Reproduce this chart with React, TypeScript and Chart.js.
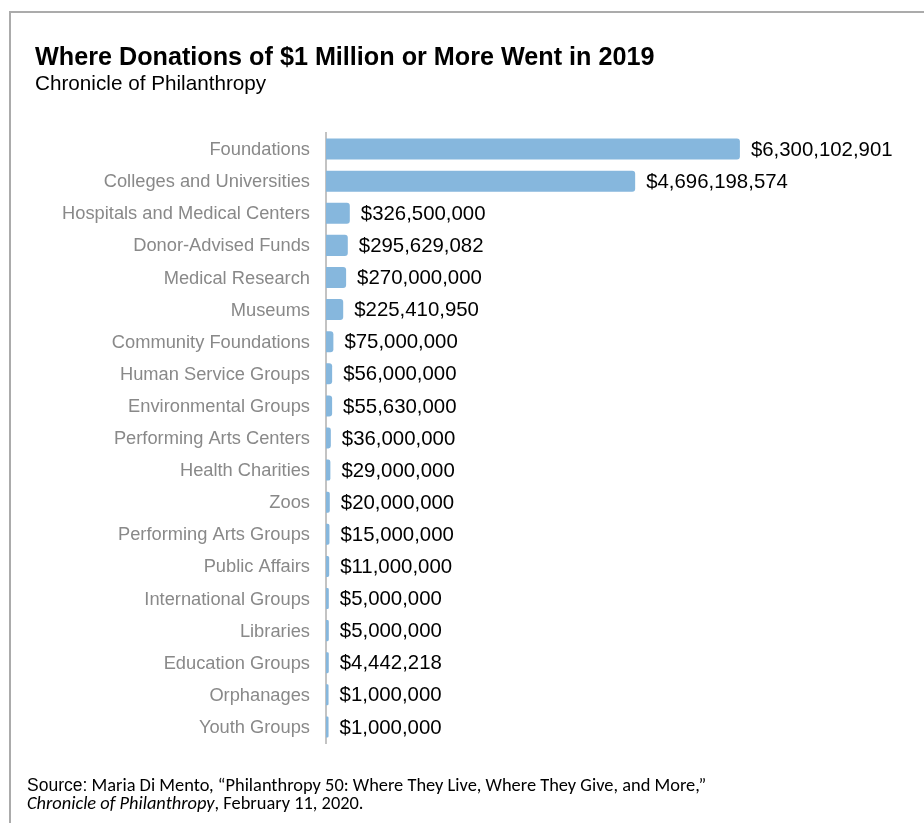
import React, { useEffect, useRef } from "react";
import { Chart, registerables } from "chart.js";

Chart.register(...registerables);

const categories: string[] = [
  "Foundations",
  "Colleges and Universities",
  "Hospitals and Medical Centers",
  "Donor-Advised Funds",
  "Medical Research",
  "Museums",
  "Community Foundations",
  "Human Service Groups",
  "Environmental Groups",
  "Performing Arts Centers",
  "Health Charities",
  "Zoos",
  "Performing Arts Groups",
  "Public Affairs",
  "International Groups",
  "Libraries",
  "Education Groups",
  "Orphanages",
  "Youth Groups",
];

const donations: number[] = [
  6300102901, 4696198574, 326500000, 295629082, 270000000, 225410950, 75000000,
  56000000, 55630000, 36000000, 29000000, 20000000, 15000000, 11000000, 5000000,
  5000000, 4442218, 1000000, 1000000,
];

const titleText = "Where Donations of $1 Million or More Went in 2019";
const subtitleText = "Chronicle of Philanthropy";

const AXIS_MIN = -38000000;
const AXIS_MAX = 7006000000;

const ARIAL = '"Liberation Sans", Arial, sans-serif';
const CALIBRI = 'Carlito, Calibri, Lato, sans-serif';

const fmt = (v: number) => "$" + v.toLocaleString("en-US");

const valueLabels = {
  id: "valueLabels",
  afterDatasetsDraw(chart: any) {
    const ctx = chart.ctx;
    const meta = chart.getDatasetMeta(0);
    ctx.save();
    ctx.font = `20.4px ${ARIAL}`;
    ctx.fillStyle = "#000000";
    ctx.textAlign = "left";
    ctx.textBaseline = "middle";
    meta.data.forEach((bar: any, i: number) => {
      ctx.fillText(fmt(donations[i]), bar.x + 11, bar.y + 1);
    });
    ctx.restore();
  },
};

export default function App() {
  const ref = useRef<HTMLCanvasElement | null>(null);

  useEffect(() => {
    if (!ref.current) return;
    const chart = new Chart(ref.current, {
      type: "bar",
      data: {
        labels: categories,
        datasets: [
          {
            data: donations,
            base: AXIS_MIN,
            backgroundColor: "#86b7dd",
            borderRadius: 3,
            barPercentage: 0.655,
            categoryPercentage: 1,
          },
        ],
      },
      options: {
        indexAxis: "y",
        animation: false,
        responsive: false,
        devicePixelRatio: 1,
        layout: { padding: { left: 0, top: 133, right: 138, bottom: 80 } },
        plugins: {
          legend: { display: false },
          tooltip: { enabled: false },
          title: { display: false },
        },
        scales: {
          x: {
            display: false,
            min: AXIS_MIN,
            max: AXIS_MAX,
          },
          y: {
            afterFit: (scale: any) => {
              scale.width = 326;
            },
            grid: { display: false, drawTicks: false },
            border: { display: true, color: "#c3c3c3", width: 2 },
            ticks: {
              padding: 16,
              labelOffset: 1,
              color: "#898989",
              font: { family: ARIAL, size: 18.3 },
            },
          },
        },
      },
      plugins: [valueLabels],
    });
    return () => chart.destroy();
  }, []);

  return (
    <div
      style={{
        position: "fixed",
        inset: 0,
        overflow: "hidden",
        background: "#ffffff",
        fontFamily: ARIAL,
      }}
    >
      <div
        style={{
          position: "absolute",
          left: 9,
          top: 11,
          width: 1000,
          height: 1000,
          border: "2px solid #ababab",
        }}
      />
      <canvas
        ref={ref}
        width={924}
        height={823}
        style={{ position: "absolute", left: 0, top: 0, width: 924, height: 823 }}
      />
      <div
        style={{
          position: "absolute",
          left: 35,
          top: 44,
          fontSize: 25.2,
          lineHeight: "25px",
          fontWeight: "bold",
          color: "#000",
          whiteSpace: "nowrap",
        }}
      >
        {titleText}
      </div>
      <div
        style={{
          position: "absolute",
          left: 35,
          top: 73,
          fontSize: 20.7,
          lineHeight: "20.5px",
          color: "#000",
          whiteSpace: "nowrap",
        }}
      >
        {subtitleText}
      </div>
      <div
        style={{
          position: "absolute",
          left: 27,
          top: 776,
          fontSize: 18.4,
          lineHeight: "18px",
          color: "#000",
          fontFamily: CALIBRI,
          whiteSpace: "nowrap",
        }}
      >
        <span style={{ fontFamily: ARIAL, fontSize: 17.5, lineHeight: "10px" }}>
          Source:
        </span>{" "}
        Maria Di Mento, “Philanthropy 50: Where They Live, Where They Give, and
        More,”
        <br />
        <i>Chronicle of Philanthropy</i>, February 11, 2020.
      </div>
    </div>
  );
}
